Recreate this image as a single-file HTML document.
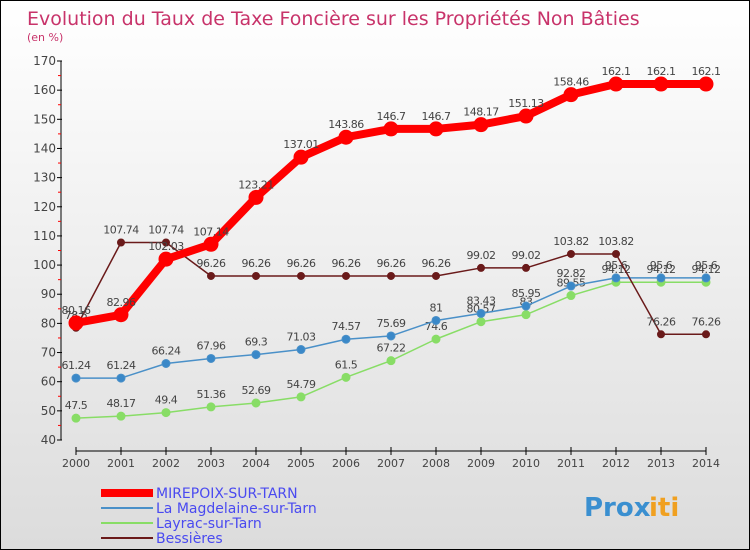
<!DOCTYPE html>
<html><head><meta charset="utf-8"><style>
body{margin:0;}
#c{width:748px;height:548px;border:1px solid #000;position:relative;background:linear-gradient(#ffffff,#dcdcdc);font-family:"DejaVu Sans","Liberation Sans",sans-serif;overflow:hidden}
</style></head><body>
<div id="c">
<svg id="s" width="748" height="548" xmlns="http://www.w3.org/2000/svg"></svg>
</div>
<script>
const years=[2000,2001,2002,2003,2004,2005,2006,2007,2008,2009,2010,2011,2012,2013,2014];
const mirepoix=[80.16,82.96,102.03,107.14,123.21,137.01,143.86,146.7,146.7,148.17,151.13,158.46,162.1,162.1,162.1];
const magdelaine=[61.24,61.24,66.24,67.96,69.3,71.03,74.57,75.69,81,83.43,85.95,92.82,95.6,95.6,95.6];
const layrac=[47.5,48.17,49.4,51.36,52.69,54.79,61.5,67.22,74.6,80.57,83,89.55,94.12,94.12,94.12];
const bessieres=[78.5,107.74,107.74,96.26,96.26,96.26,96.26,96.26,96.26,99.02,99.02,103.82,103.82,76.26,76.26];
const yTicks=[40,50,60,70,80,90,100,110,120,130,140,150,160,170];
const NS="http://www.w3.org/2000/svg";
const s=document.getElementById('s');
function X(i){return 75+i*45;}
function Y(v){return 439-(v-40)*(379/130);}
function el(t,a,txt){const e=document.createElementNS(NS,t);for(const k in a)e.setAttribute(k,a[k]);if(txt!==undefined)e.textContent=txt;s.appendChild(e);return e;}
let t=el('text',{x:26,y:24,'font-size':19,fill:'#c8336a'},'Evolution du Taux de Taxe Foncière sur les Propriétés Non Bâties');

t=el('text',{x:26,y:40,'font-size':11,fill:'#c8336a'},'(en %)');

// axes
let a=el('line',{x1:60,y1:Y(170),x2:60,y2:Y(40),stroke:'#000'});
a=el('line',{x1:75,y1:450,x2:705,y2:450,stroke:'#000'});
yTicks.forEach(v=>{
 let l=el('line',{x1:56,y1:Y(v),x2:61,y2:Y(v),stroke:'#000'});
 if(v<170){let m=el('line',{x1:57,y1:Y(v+5),x2:60,y2:Y(v+5),stroke:'#f00'});}
 let tx=el('text',{x:55,y:Y(v)+4,'font-size':12,fill:'#444','text-anchor':'end'},v);
});
years.forEach((y,i)=>{
 let l=el('line',{x1:X(i),y1:446,x2:X(i),y2:454,stroke:'#000'});
 let tx=el('text',{x:X(i),y:466,'font-size':11,fill:'#444','text-anchor':'middle'},y);
});
function series(data,color,w,r,fill,name){
 const p=el('polyline',{points:data.map((v,i)=>X(i)+','+Y(v)).join(' '),fill:'none',stroke:color,'stroke-width':w,'stroke-linejoin':'round'});
 
 data.forEach((v,i)=>{
  const c=el('circle',{cx:X(i),cy:Y(v),r:r,fill:fill,stroke:color,'stroke-width':1});
  
  const tx=el('text',{x:X(i),y:Y(v)-9,'font-size':11,fill:'#444','text-anchor':'middle','letter-spacing':'-0.5'},v);
  
 });
}
series(layrac,'#88dd66',1.5,4,'#88dd66','layrac');
series(magdelaine,'#4a90c8',1.5,4,'#3a88c8','magdelaine');
series(bessieres,'#6a1a1a',1.5,3.5,'#6a1a1a','bessieres');
series(mirepoix,'#ff0000',8,7,'#ff0000','mirepoix');
// legend
const leg=[['MIREPOIX-SUR-TARN','#ff0000',8],['La Magdelaine-sur-Tarn','#4a90c8',2],['Layrac-sur-Tarn','#88dd66',2],['Bessières','#6a1a1a',2]];
leg.forEach((l,i)=>{
 const y=492+i*15;
 let ln=el('line',{x1:100,y1:y,x2:152,y2:y,stroke:l[1],'stroke-width':l[2]});
 let tx=el('text',{x:155,y:y+5,'font-size':14,fill:'#4a4af0'},l[0]);
});
let lg=el('text',{x:583,y:515,'font-size':26,'font-weight':'bold',fill:'#3a8fd0'},'Prox');
let lg2=el('text',{x:648,y:515,'font-size':26,'font-weight':'bold',fill:'#f0a020'},'iti');
</script>
</body></html>
